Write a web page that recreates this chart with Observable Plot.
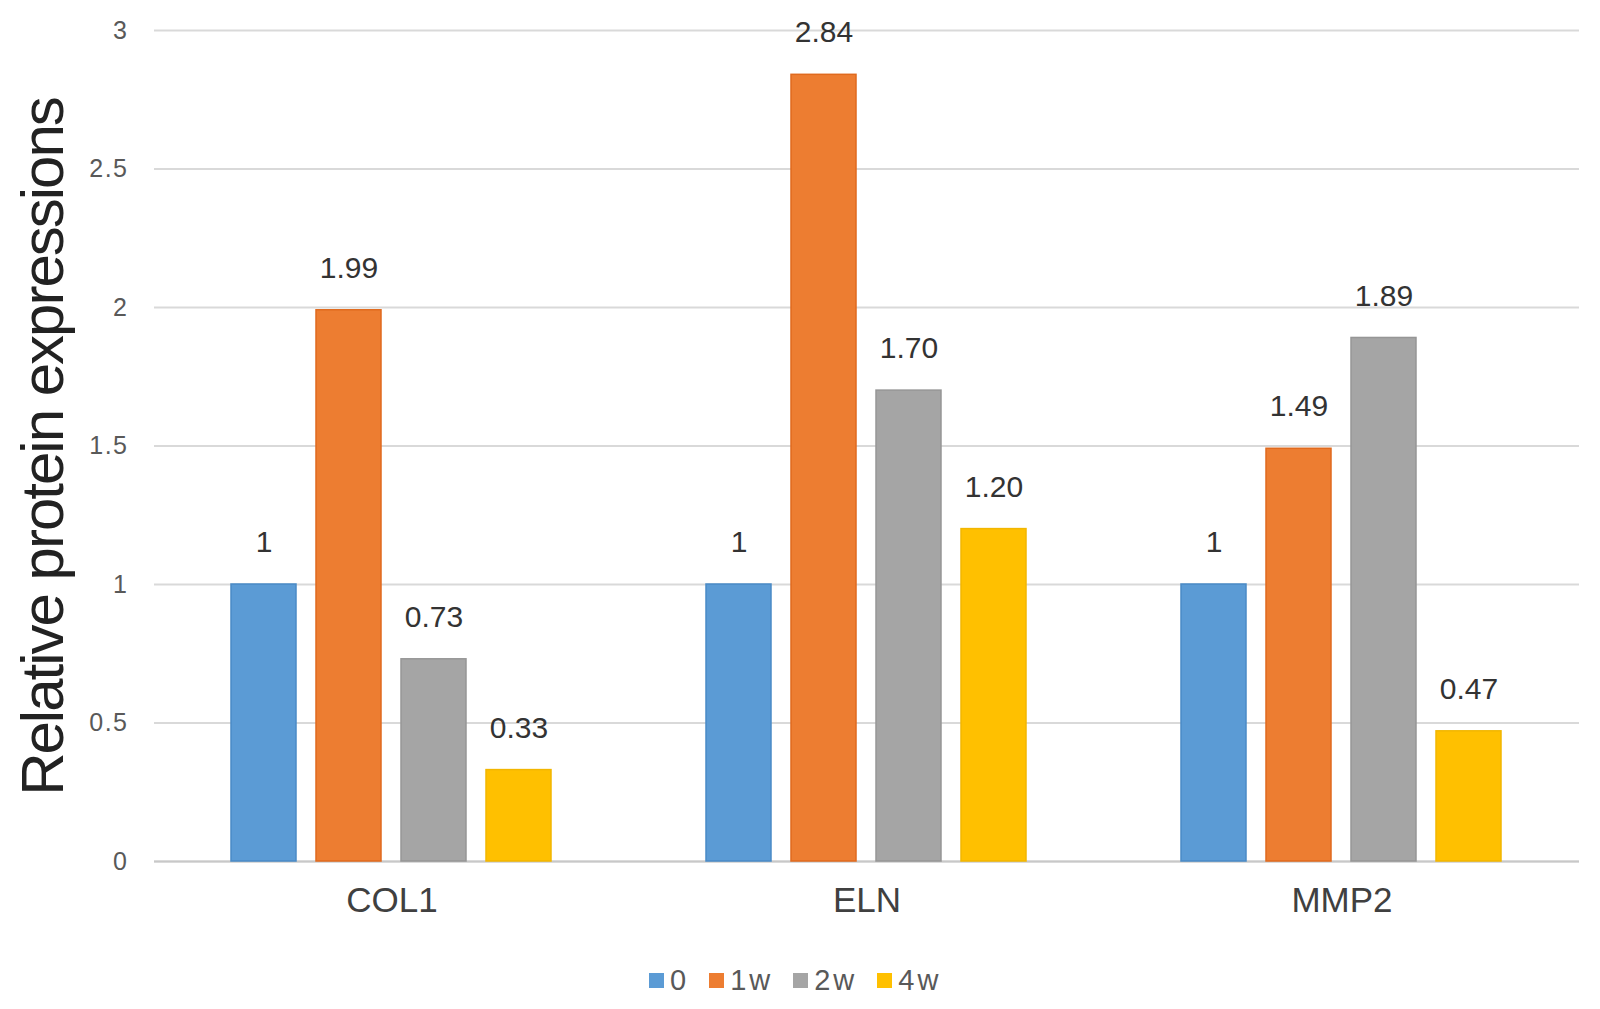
<!DOCTYPE html>
<html>
<head>
<meta charset="utf-8">
<script src="https://cdn.jsdelivr.net/npm/d3@7"></script>
<script src="https://cdn.jsdelivr.net/npm/@observablehq/plot@0.6"></script>
<style>
  html, body { margin: 0; padding: 0; background: #fff; overflow: hidden; }
  #chart { width: 1600px; position: relative; }
  #chart svg { max-width: none; display: block; }
  #chart svg g[aria-label="y-axis tick label"] text { letter-spacing: 1.5px; }
  .ylabel { position: absolute; left: 43px; top: 447px; transform: translate(-50%, -50%) rotate(-90deg); white-space: nowrap; font-family: Arial, "Liberation Sans", sans-serif; font-size: 60px; line-height: 1; letter-spacing: -2px; color: #222; }
  .legend { display: flex; justify-content: flex-start; align-items: center; gap: 20px; font-family: Arial, "Liberation Sans", sans-serif; font-size: 29px; letter-spacing: 3px; color: #595959; margin-top: 10px; height: 40px; padding-left: 649px; }
  .legend span.item { display: flex; align-items: center; gap: 6px; }
  .legend span.sw { display: inline-block; width: 15px; height: 15px; }
</style>
</head>
<body>
<div id="chart"></div>
<script>
const categories = ["COL1", "ELN", "MMP2"];
const series = ["0", "1w", "2w", "4w"];
const values0  = [1, 1, 1];
const values1w = [1.99, 2.84, 1.49];
const values2w = [0.73, 1.70, 1.89];
const values4w = [0.33, 1.20, 0.47];
const labels0  = ["1", "1", "1"];
const labels1w = ["1.99", "2.84", "1.49"];
const labels2w = ["0.73", "1.70", "1.89"];
const labels4w = ["0.33", "1.20", "0.47"];
const colors = ["#5B9BD5", "#ED7D31", "#A5A5A5", "#FFC000"];
const strokes = ["#4A8AC6", "#E06A1E", "#969696", "#F2B600"];
const yTicks = [0, 0.5, 1, 1.5, 2, 2.5, 3];
const yTitle = "Relative protein expressions";

const allValues = [values0, values1w, values2w, values4w];
const allLabels = [labels0, labels1w, labels2w, labels4w];
const data = [];
categories.forEach((c, i) => {
  series.forEach((s, j) => {
    data.push({category: c, series: s, value: allValues[j][i], label: allLabels[j][i]});
  });
});

const font = 'Arial, "Liberation Sans", sans-serif';

const chart = Plot.plot({
  width: 1600,
  height: 950,
  marginLeft: 154,
  marginRight: 21,
  marginTop: 30,
  marginBottom: 89,
  style: {fontFamily: font, background: "#fff"},
  fx: {domain: categories, padding: 0, label: null, axis: null},
  x: {domain: series, paddingInner: 0.234, paddingOuter: 0.895, axis: null},
  y: {domain: [0, 3], label: null, axis: null},
  color: {domain: series, range: colors},
  marks: [
    Plot.gridY(yTicks, {stroke: "#d9d9d9", strokeOpacity: 1, strokeWidth: 2}),
    Plot.ruleY([0], {stroke: "#c8c8c8", strokeWidth: 2}),
    Plot.barY(data, {fx: "category", x: "series", y: "value", fill: "series",
      stroke: d => strokes[series.indexOf(d.series)], strokeWidth: 1.5}),
    Plot.text(data, {fx: "category", x: "series", y: "value", text: "label",
      dy: -42, lineAnchor: "middle", fontSize: 30, fill: "#333"}),
    Plot.axisY(yTicks, {tickSize: 0, tickPadding: 26, fontSize: 25, color: "#595959", label: null, tickFormat: d => String(d)}),
    Plot.axisFx({anchor: "bottom", tickSize: 0, tickPadding: 26, fontSize: 35, color: "#404040", label: null})
  ]
});

const host = document.getElementById("chart");
host.appendChild(chart);

const yl = document.createElement("div");
yl.className = "ylabel";
yl.textContent = yTitle;
host.appendChild(yl);

const legend = document.createElement("div");
legend.className = "legend";
series.forEach((s, j) => {
  const item = document.createElement("span");
  item.className = "item";
  const sw = document.createElement("span");
  sw.className = "sw";
  sw.style.background = colors[j];
  item.appendChild(sw);
  const t = document.createElement("span");
  t.textContent = s;
  item.appendChild(t);
  legend.appendChild(item);
});
host.appendChild(legend);
</script>
</body>
</html>
